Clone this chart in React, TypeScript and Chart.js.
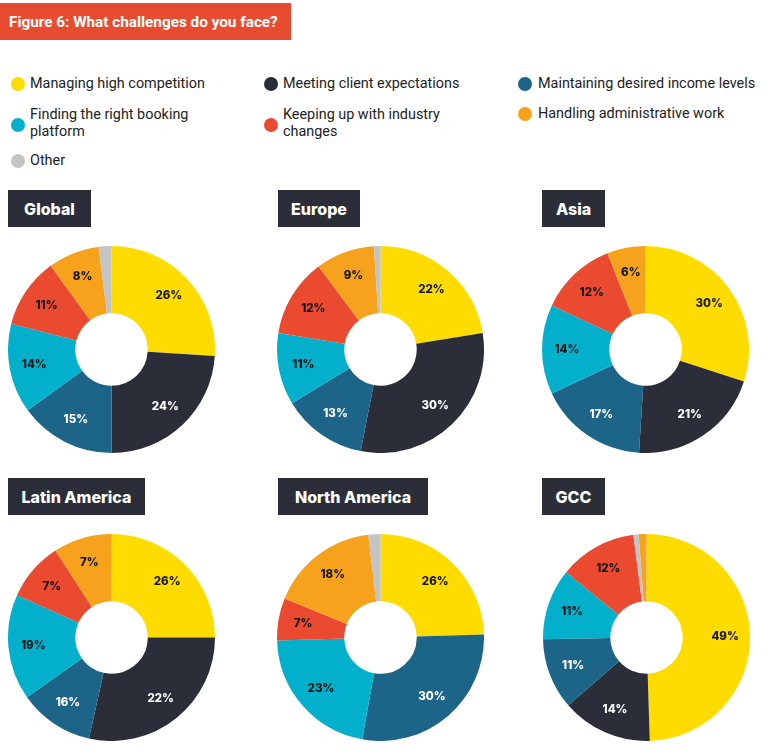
import React, { useEffect, useRef } from 'react';
import { Chart, registerables } from 'chart.js';

Chart.register(...registerables);

// ---------- data ----------
const TITLE = 'Figure 6: What challenges do you face?';

const CATEGORIES = [
  'Managing high competition',
  'Meeting client expectations',
  'Maintaining desired income levels',
  'Finding the right booking\nplatform',
  'Keeping up with industry\nchanges',
  'Handling administrative work',
  'Other',
];

const COLORS = ['#FEDC00', '#2B2E38', '#1D6588', '#03B0CC', '#EA4A2F', '#F7A21D', '#C4C4C4'];
const LABEL_COLORS = ['#151515', '#FFFFFF', '#FFFFFF', '#151515', '#151515', '#151515', '#151515'];

const REGIONS = ['Global', 'Europe', 'Asia', 'Latin America', 'North America', 'GCC'];

// slice shares as drawn, category order as in CATEGORIES
const GLOBAL_VALUES = [26, 24, 15, 14, 11, 8, 2];
const GLOBAL_LABELS = ['26%', '24%', '15%', '14%', '11%', '8%', ''];

const EUROPE_VALUES = [22, 30, 13, 11, 12, 9, 1];
const EUROPE_LABELS = ['22%', '30%', '13%', '11%', '12%', '9%', ''];

const ASIA_VALUES = [30, 21, 17, 14, 12, 6, 0];
const ASIA_LABELS = ['30%', '21%', '17%', '14%', '12%', '6%', ''];

const LATAM_VALUES = [25, 28.5, 11.7, 16.5, 9.2, 9.1, 0];
const LATAM_LABELS = ['26%', '22%', '16%', '19%', '7%', '7%', ''];

const NORTHAM_VALUES = [26, 0, 30, 23, 7, 18, 2];
const NORTHAM_LABELS = ['26%', '', '30%', '23%', '7%', '18%', ''];

const GCC_VALUES = [49, 14, 11, 11, 12, 1.2, 0.8];
const GCC_LABELS = ['49%', '14%', '11%', '11%', '12%', '', ''];

const DEFAULT_ORDER = [0, 1, 2, 3, 4, 5, 6];
const GCC_ORDER = [0, 1, 2, 3, 4, 6, 5];

// ---------- layout ----------
const HEAVY = 'Inter, "Noto Sans", "DejaVu Sans", sans-serif';
const REGULAR = 'Roboto, "Liberation Sans", Arial, sans-serif';

const PANELS = [
  { name: REGIONS[0], values: GLOBAL_VALUES, labels: GLOBAL_LABELS, order: DEFAULT_ORDER, hx: 8, hy: 190, hw: 83, cx: 8, cy: 246 },
  { name: REGIONS[1], values: EUROPE_VALUES, labels: EUROPE_LABELS, order: DEFAULT_ORDER, hx: 278, hy: 190, hw: 82, cx: 277, cy: 246 },
  { name: REGIONS[2], values: ASIA_VALUES, labels: ASIA_LABELS, order: DEFAULT_ORDER, hx: 542, hy: 190, hw: 63, cx: 542, cy: 246 },
  { name: REGIONS[3], values: LATAM_VALUES, labels: LATAM_LABELS, order: DEFAULT_ORDER, hx: 8, hy: 478, hw: 137, cx: 8, cy: 534 },
  { name: REGIONS[4], values: NORTHAM_VALUES, labels: NORTHAM_LABELS, order: DEFAULT_ORDER, hx: 278, hy: 478, hw: 150, cx: 277, cy: 534 },
  { name: REGIONS[5], values: GCC_VALUES, labels: GCC_LABELS, order: GCC_ORDER, hx: 542, hy: 478, hw: 63, cx: 543, cy: 534 },
];

const LEGEND_POS = [
  { dx: 18, dy: 84, tx: 30, ty: 75 },
  { dx: 271, dy: 84, tx: 283, ty: 75 },
  { dx: 525, dy: 84, tx: 538, ty: 75 },
  { dx: 18, dy: 125, tx: 30, ty: 106 },
  { dx: 271, dy: 125, tx: 283, ty: 106 },
  { dx: 525, dy: 114, tx: 538, ty: 105 },
  { dx: 18, dy: 161, tx: 30, ty: 152 },
];

const SIZE = 207;

function Donut({ values, labels, order, left, top }: any) {
  const ref = useRef<HTMLCanvasElement>(null);
  useEffect(() => {
    if (!ref.current) return;
    const data = order.map((i: number) => values[i]);
    const bg = order.map((i: number) => COLORS[i]);
    const txt = order.map((i: number) => labels[i]);
    const tc = order.map((i: number) => LABEL_COLORS[i]);
    const names = order.map((i: number) => CATEGORIES[i].replace('\n', ' '));
    const labelPlugin = {
      id: 'pctLabels',
      afterDatasetsDraw(chart: any) {
        const ctx = chart.ctx;
        const arcs = chart.getDatasetMeta(0).data;
        ctx.save();
        ctx.font = `800 11.5px ${HEAVY}`;
        ctx.textAlign = 'center';
        ctx.textBaseline = 'middle';
        arcs.forEach((arc: any, i: number) => {
          if (!txt[i]) return;
          const p = arc.getProps(['x', 'y', 'startAngle', 'endAngle', 'innerRadius', 'outerRadius'], true);
          const mid = (p.startAngle + p.endAngle) / 2;
          const r = p.innerRadius + 0.63 * (p.outerRadius - p.innerRadius);
          ctx.fillStyle = tc[i];
          ctx.fillText(txt[i], p.x + Math.cos(mid) * r, p.y + Math.sin(mid) * r);
        });
        ctx.restore();
      },
    };
    const chart = new Chart(ref.current, {
      type: 'doughnut',
      data: {
        labels: names,
        datasets: [{ data, backgroundColor: bg, borderWidth: 0 }],
      },
      options: {
        responsive: false,
        maintainAspectRatio: false,
        animation: false,
        cutout: '35%',
        layout: { padding: 0 },
        plugins: { legend: { display: false }, tooltip: { enabled: false } },
      },
      plugins: [labelPlugin],
    } as any);
    return () => chart.destroy();
  }, []);
  return (
    <canvas
      ref={ref}
      width={SIZE}
      height={SIZE}
      style={{ position: 'absolute', left, top, width: SIZE, height: SIZE }}
    />
  );
}

export default function App() {
  return (
    <div
      style={{
        position: 'absolute',
        left: 0,
        top: 0,
        width: 782,
        height: 754,
        background: '#FFFFFF',
        overflow: 'hidden',
      }}
    >
      <div
        style={{
          position: 'absolute',
          left: 0,
          top: 3,
          width: 291,
          height: 37,
          background: '#E84C30',
          color: '#FFFFFF',
          font: `700 15.3px ${REGULAR}`,
          display: 'flex',
          alignItems: 'center',
          paddingLeft: 9,
          boxSizing: 'border-box',
          whiteSpace: 'nowrap',
        }}
      >
        {TITLE}
      </div>

      {CATEGORIES.map((c, i) => (
        <React.Fragment key={c}>
          <div
            style={{
              position: 'absolute',
              left: LEGEND_POS[i].dx - 7,
              top: LEGEND_POS[i].dy - 7,
              width: 14,
              height: 14,
              borderRadius: '50%',
              background: COLORS[i],
            }}
          />
          <div
            style={{
              position: 'absolute',
              left: LEGEND_POS[i].tx,
              top: LEGEND_POS[i].ty,
              font: `400 14.4px ${REGULAR}`,
              lineHeight: '17px',
              color: '#222222',
              whiteSpace: 'pre',
            }}
          >
            {c}
          </div>
        </React.Fragment>
      ))}

      {PANELS.map((p) => (
        <React.Fragment key={p.name}>
          <div
            style={{
              position: 'absolute',
              left: p.hx,
              top: p.hy,
              width: p.hw,
              height: 37,
              background: '#2B2E38',
              color: '#FFFFFF',
              font: `800 16px ${HEAVY}`,
              display: 'flex',
              alignItems: 'center',
              justifyContent: 'center',
              whiteSpace: 'nowrap',
            }}
          >
            {p.name}
          </div>
          <Donut values={p.values} labels={p.labels} order={p.order} left={p.cx} top={p.cy} />
        </React.Fragment>
      ))}
    </div>
  );
}
